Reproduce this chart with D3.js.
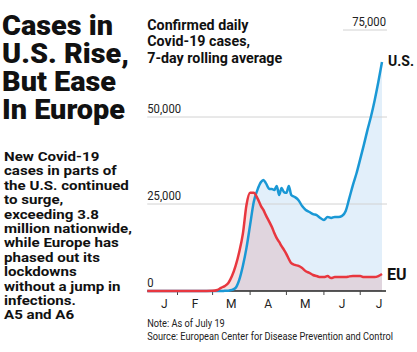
<!DOCTYPE html>
<html>
<head>
<meta charset="utf-8">
<script src="https://cdn.jsdelivr.net/npm/d3@7"></script>
<style>
  body { margin: 0; background: #fff; }
  svg { display: block; }
</style>
</head>
<body>
<div id="chart"></div>
<script>
// data (7-day avg, thousands of cases)
var dates = ["2020-01-07", "2020-02-01", "2020-02-20", "2020-03-01", "2020-03-05", "2020-03-08", "2020-03-11",
  "2020-03-14", "2020-03-17", "2020-03-20", "2020-03-23", "2020-03-26", "2020-03-29", "2020-04-01", "2020-04-04",
  "2020-04-07", "2020-04-10", "2020-04-12", "2020-04-14", "2020-04-17", "2020-04-19", "2020-04-21", "2020-04-23",
  "2020-04-25", "2020-04-27", "2020-04-29", "2020-05-01", "2020-05-03", "2020-05-05", "2020-05-08", "2020-05-11",
  "2020-05-14", "2020-05-17", "2020-05-20", "2020-05-23", "2020-05-26", "2020-05-29", "2020-06-01", "2020-06-04",
  "2020-06-07", "2020-06-10", "2020-06-13", "2020-06-16", "2020-06-19", "2020-06-22", "2020-06-25", "2020-06-28",
  "2020-07-01", "2020-07-04", "2020-07-07", "2020-07-10", "2020-07-13", "2020-07-16", "2020-07-19"];
var usCases = [0, 0, 0, 0, 0, 0, 0.05,
  0.1, 0.3, 0.9, 3.2, 7.2, 12.4, 19.0, 25.6,
  29.0, 31.3, 31.9, 31.0, 29.3, 29.3, 29.0, 30.2,
  27.6, 29.6, 28.4, 28.2, 30.2, 27.6, 27.0, 26.1,
  24.4, 23.3, 22.7, 22.1, 21.8, 21.0, 20.4, 21.3,
  21.0, 21.3, 21.3, 21.6, 23.0, 26.7, 30.5, 33.9,
  37.9, 42.0, 46.3, 50.3, 54.9, 60.1, 65.8];
var euCases = [0, 0, 0, 0.05, 0.3, 0.9, 1.4,
  2.3, 4.3, 7.2, 11.2, 16.4, 24.7, 28.2, 28.2,
  26.7, 24.4, 23.3, 21.8, 19.8, 18.4, 16.7, 15.2,
  14.1, 12.9, 11.8, 10.6, 9.2, 8.0, 7.5, 7.2,
  6.6, 5.7, 5.2, 4.6, 4.3, 4.0, 4.0, 4.3,
  3.7, 4.0, 4.0, 4.0, 4.0, 4.2, 4.3, 4.3,
  4.3, 4.0, 4.0, 4.0, 4.0, 4.3, 4.9];
var yTicks = [0, 25, 50, 75];
var monthLabels = ["J", "F", "M", "A", "M", "J", "J"];
var monthStarts = ["2020-01-01", "2020-02-01", "2020-03-01", "2020-04-01", "2020-05-01", "2020-06-01", "2020-07-01", "2020-08-01"];

var headline = ["Cases in", "U.S. Rise,", "But Ease", "In Europe"];
var blurb = ["New Covid-19", "cases in parts of", "the U.S. continued", "to surge,", "exceeding 3.8",
  "million nationwide,", "while Europe has", "phased out its", "lockdowns", "without a jump in",
  "infections.", "A5 and A6"];
var chartTitle = ["Confirmed daily", "Covid-19 cases,", "7-day rolling average"];
var notes = ["Note: As of July 19", "Source: European Center for Disease Prevention and Control"];

var w = 417;
var h = 352;
var usBlue = "#1a98d5";
var euRed = "#e8373f";
var font = "'Roboto', 'Liberation Sans', sans-serif";

var parse = d3.timeParse("%Y-%m-%d");
var data = dates.map(function (d, i) {
  return { date: parse(d), us: usCases[i], eu: euCases[i] };
});

var svg = d3.select("#chart").append("svg").attr("width", w).attr("height", h);
svg.append("rect").attr("width", w).attr("height", h).attr("fill", "#fff");

// squeeze/stretch a block of text horizontally so its widest line fits
function fitWidth(g, x0, target) {
  var widest = d3.max(g.selectAll("text").nodes(), function (n) { return n.getComputedTextLength(); });
  var k = target / widest;
  g.attr("transform", "translate(" + x0 + ",0) scale(" + k + ",1)");
}

// 比例尺
var x = d3.scaleTime().domain([parse("2020-01-01"), parse("2020-07-19")]).range([140, 382]);
var y = d3.scaleLinear().domain([0, 75]).range([291, 30]);
var x0 = x(data[0].date);

// left headline + blurb
var headG = svg.append("g");
headG.selectAll("text")
  .data(headline)
  .enter()
  .append("text")
  .attr("x", 0)
  .attr("y", function (d, i) { return 35 + i * 28; })
  .attr("font-family", font)
  .attr("font-weight", 900)
  .attr("font-size", "27px")
  .attr("fill", "#111")
  .text(function (d) { return d; });
fitWidth(headG, 2, 127);

var blurbG = svg.append("g");
blurbG.selectAll("text")
  .data(blurb)
  .enter()
  .append("text")
  .attr("x", 0)
  .attr("y", function (d, i) { return 161 + i * 14.4; })
  .attr("font-family", font)
  .attr("font-weight", 700)
  .attr("font-size", "12.5px")
  .attr("fill", "#111")
  .text(function (d) { return d; });
fitWidth(blurbG, 4, 128);

// areas
var usArea = d3.area().x(function (d) { return x(d.date); }).y0(y(0)).y1(function (d) { return y(d.us); }).curve(d3.curveMonotoneX);
var euArea = d3.area().x(function (d) { return x(d.date); }).y0(y(0)).y1(function (d) { return y(d.eu); }).curve(d3.curveMonotoneX);
svg.append("path").datum(data).attr("d", usArea).attr("fill", "#e2effa");
svg.append("path").datum(data).attr("d", euArea).attr("fill", "rgba(222,160,166,0.32)");

// gridlines
svg.append("g").selectAll("line")
  .data(yTicks.slice(1))
  .enter()
  .append("line")
  .attr("x1", function (d) { return d === 75 ? 343 : x0; })
  .attr("x2", 387)
  .attr("y1", function (d) { return y(d); })
  .attr("y2", function (d) { return y(d); })
  .attr("stroke", "#d2d2d2")
  .attr("stroke-width", 1);

svg.append("g").selectAll("text")
  .data(yTicks)
  .enter()
  .append("text")
  .attr("transform", function (d) {
    return "translate(" + (d === 75 ? 386 : x0) + "," + (y(d) - 4) + ") scale(0.9,1)";
  })
  .attr("text-anchor", function (d) { return d === 75 ? "end" : "start"; })
  .attr("font-family", font)
  .attr("font-size", "12.5px")
  .attr("fill", "#222")
  .text(function (d) { return d3.format(",")(d * 1000); });

// x axis
svg.append("line")
  .attr("x1", x0).attr("x2", 386)
  .attr("y1", y(0)).attr("y2", y(0))
  .attr("stroke", "#222").attr("stroke-width", 1.5);

var starts = monthStarts.map(parse);
svg.append("g").selectAll("line")
  .data(starts.slice(1, 7))
  .enter()
  .append("line")
  .attr("x1", function (d) { return x(d); })
  .attr("x2", function (d) { return x(d); })
  .attr("y1", y(0))
  .attr("y2", y(0) + 4)
  .attr("stroke", "#444");

svg.append("g").selectAll("text")
  .data(monthLabels)
  .enter()
  .append("text")
  .attr("x", function (d, i) {
    var a = Math.max(x(starts[i]), x0);
    return (a + x(starts[i + 1])) / 2 + (i === 0 ? 2 : 0);
  })
  .attr("y", 308)
  .attr("text-anchor", "middle")
  .attr("font-family", font)
  .attr("font-size", "12px")
  .attr("fill", "#222")
  .text(function (d) { return d; });

// lines
var usLine = d3.line().x(function (d) { return x(d.date); }).y(function (d) { return y(d.us); }).curve(d3.curveMonotoneX);
var euLine = d3.line().x(function (d) { return x(d.date); }).y(function (d) { return y(d.eu); }).curve(d3.curveMonotoneX);
svg.append("path").datum(data).attr("d", usLine).attr("fill", "none").attr("stroke", usBlue).attr("stroke-width", 2.5).attr("stroke-linejoin", "round");
svg.append("path").datum(data).attr("d", euLine).attr("fill", "none").attr("stroke", euRed).attr("stroke-width", 2.5).attr("stroke-linejoin", "round");

// series labels
var last = data[data.length - 1];
svg.append("text").attr("x", 388).attr("y", y(last.us) + 4)
  .attr("font-family", font).attr("font-weight", 700).attr("font-size", "14px").attr("fill", "#111").text("U.S.");
svg.append("text").attr("x", 387).attr("y", y(last.eu) + 6)
  .attr("font-family", font).attr("font-weight", 700).attr("font-size", "16px").attr("fill", "#111").text("EU");

// chart title
var titleG = svg.append("g");
titleG.selectAll("text")
  .data(chartTitle)
  .enter()
  .append("text")
  .attr("x", 0)
  .attr("y", function (d, i) { return 30 + i * 16.5; })
  .attr("font-family", font)
  .attr("font-weight", 700)
  .attr("font-size", "14px")
  .attr("fill", "#111")
  .text(function (d) { return d; });
fitWidth(titleG, x0, 135);

// notes
var notesG = svg.append("g");
notesG.selectAll("text")
  .data(notes)
  .enter()
  .append("text")
  .attr("x", 0)
  .attr("y", function (d, i) { return 327 + i * 13.5; })
  .attr("font-family", font)
  .attr("font-size", "10.5px")
  .attr("fill", "#222")
  .text(function (d) { return d; });
fitWidth(notesG, x0, 246);
</script>
</body>
</html>
